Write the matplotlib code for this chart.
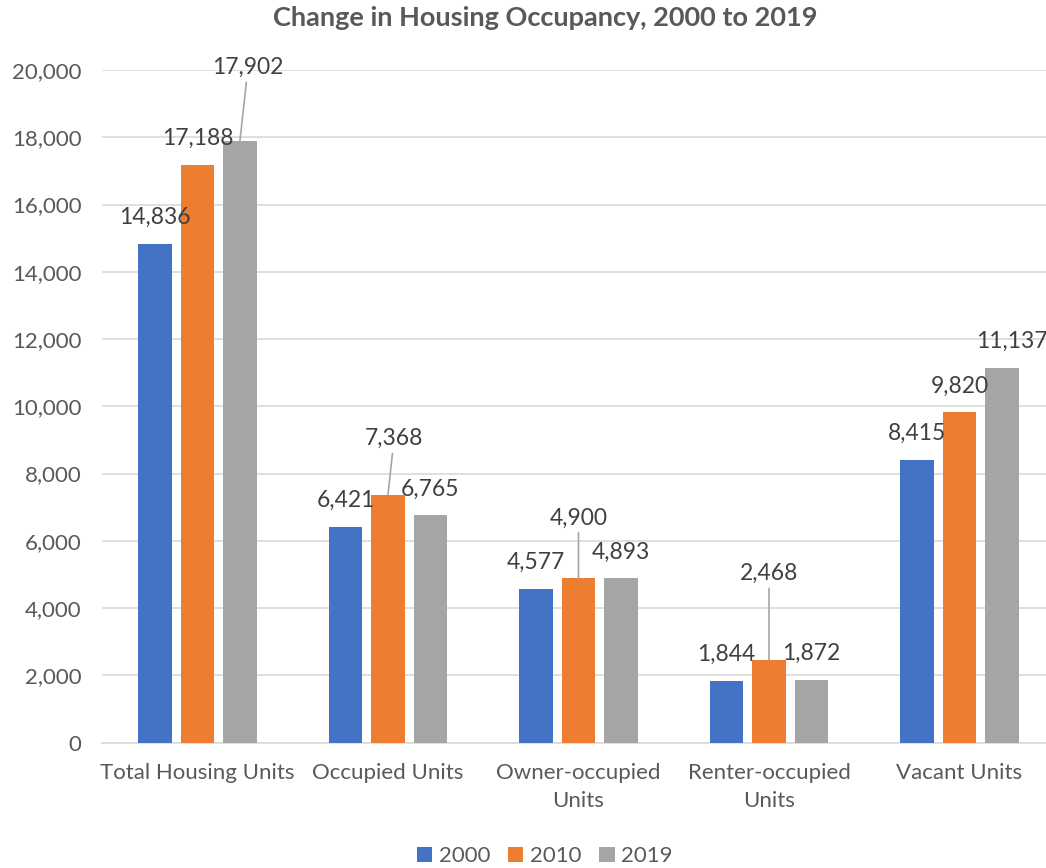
import numpy as np
import matplotlib.pyplot as plt
from matplotlib.ticker import FuncFormatter

# data
categories = ["Total Housing Units", "Occupied Units", "Owner-occupied\nUnits",
              "Renter-occupied\nUnits", "Vacant Units"]
years = ["2000", "2010", "2019"]
v2000 = [14836, 6421, 4577, 1844, 8415]
v2010 = [17188, 7368, 4900, 2468, 9820]
v2019 = [17902, 6765, 4893, 1872, 11137]

colors = ["#4472C4", "#ED7D31", "#A5A5A5"]
grey_txt = "#595959"
label_txt = "#404040"

# labels that Excel pushed away from the bar top (pixel offsets, with leader line)
moved = {(2, 0): (8, 73, True), (1, 1): (6, 56, True), (1, 2): (0, 60, True),
         (1, 3): (0, 86, True), (2, 4): (10, 27, False)}

plt.rcParams['font.family'] = ['Lato', 'DejaVu Sans']

fig = plt.figure(figsize=(10.46, 8.68), dpi=100)
ax = fig.add_axes([0.09775, 0.1444, 0.9106, 0.775])

x = np.arange(len(categories))
step = 0.223
width = 0.175
series = [v2000, v2010, v2019]

for s, vals in enumerate(series):
    xs = x + (s - 1) * step
    ax.bar(xs, vals, width, color=colors[s], label=years[s], zorder=3)
    for c, (xx, v) in enumerate(zip(xs, vals)):
        dx, dy, line = moved.get((s, c), (0, 26, False))
        props = None
        if line:
            props = dict(arrowstyle='-', color="#A6A6A6", lw=1.2,
                         shrinkA=1, shrinkB=0)
        ax.annotate(f"{v:,}", xy=(xx, v), xytext=(dx, dy),
                    textcoords='offset pixels', ha='center', va='center',
                    fontsize=16.5, color=label_txt, arrowprops=props,
                    annotation_clip=False, zorder=4)

ax.set_xlim(-0.5, len(categories) - 0.5)
ax.set_ylim(0, 20000)
ax.set_yticks(np.arange(0, 20001, 2000))
ax.yaxis.set_major_formatter(FuncFormatter(lambda v, p: f"{int(v):,}"))
ax.set_xticks(x)
ax.set_xticklabels(categories, linespacing=1.45)
ax.tick_params(axis='both', length=0, labelsize=16, colors=grey_txt)
ax.tick_params(axis='y', pad=15)
ax.tick_params(axis='x', pad=15)

ax.grid(axis='y', color="#D9D9D9", lw=1.2, zorder=0)
for side in ['top', 'right', 'left']:
    ax.spines[side].set_visible(False)
ax.spines['bottom'].set_color("#D9D9D9")
ax.spines['bottom'].set_linewidth(1.2)

# chart area is cropped on the right, so the centre sits right of the image middle
cx = 545 / 1046
fig.text(cx, 0.979, "Change in Housing Occupancy, 2000 to 2019", ha='center',
         va='center', fontsize=19.5, fontweight='bold', color=grey_txt)

fig.legend(loc='center', bbox_to_anchor=(cx, 1 - 856 / 868), ncol=3,
           frameon=False, fontsize=16, handlelength=0.68, handleheight=0.68,
           handletextpad=0.3, columnspacing=0.8, labelcolor=grey_txt)

fig.savefig("out.png", dpi=100)
